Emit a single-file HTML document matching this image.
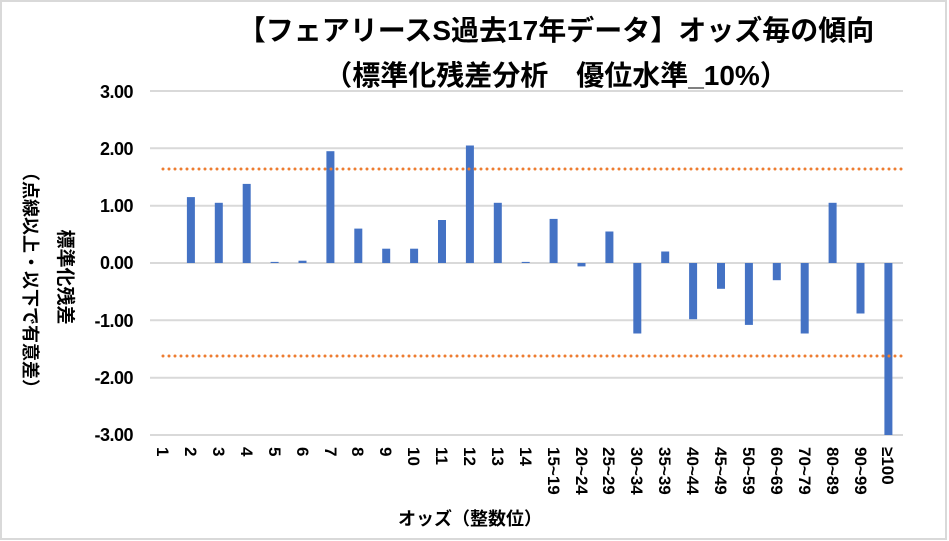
<!DOCTYPE html>
<html><head><meta charset="utf-8"><style>
html,body{margin:0;padding:0;background:#fff;}
svg{display:block;font-family:"Liberation Sans","Noto Sans CJK JP",sans-serif;}
</style></head><body>
<svg width="949" height="541" viewBox="0 0 949 541" xmlns="http://www.w3.org/2000/svg">
<rect x="1" y="1" width="945" height="538" fill="#fff" stroke="#d9d9d9" stroke-width="2"/>
<text x="556" y="40" font-size="28" font-weight="bold" text-anchor="middle" fill="#000">【フェアリースS過去17年データ】オッズ毎の傾向</text>
<text x="556" y="85" font-size="28" font-weight="bold" text-anchor="middle" fill="#000">（標準化残差分析　優位水準_10%）</text>
<g stroke="#d9d9d9" stroke-width="2">
<line x1="150" y1="91" x2="903" y2="91"/><line x1="150" y1="148.3" x2="903" y2="148.3"/>
<line x1="150" y1="205.7" x2="903" y2="205.7"/><line x1="150" y1="263" x2="903" y2="263"/>
<line x1="150" y1="320.3" x2="903" y2="320.3"/><line x1="150" y1="377.7" x2="903" y2="377.7"/>
<line x1="150" y1="435" x2="903" y2="435"/>
</g>
<g font-size="18" font-weight="bold" text-anchor="end" fill="#000" letter-spacing="-0.5">
<text x="133" y="98">3.00</text><text x="133" y="155">2.00</text><text x="133" y="212">1.00</text>
<text x="133" y="269">0.00</text><text x="133" y="327">-1.00</text><text x="133" y="384">-2.00</text><text x="133" y="441">-3.00</text>
</g>
<g fill="#4472c4">
<rect x="186.9" y="197.1" width="8" height="65.9"/><rect x="214.8" y="202.8" width="8" height="60.2"/>
<rect x="242.7" y="183.9" width="8" height="79.1"/><rect x="270.6" y="261.9" width="8" height="1.1"/>
<rect x="298.5" y="260.7" width="8" height="2.3"/><rect x="326.4" y="151.2" width="8" height="111.8"/>
<rect x="354.3" y="228.6" width="8" height="34.4"/><rect x="382.2" y="248.7" width="8" height="14.3"/>
<rect x="410.1" y="248.7" width="8" height="14.3"/><rect x="438" y="220" width="8" height="43"/>
<rect x="465.9" y="145.5" width="8" height="117.5"/><rect x="493.8" y="202.8" width="8" height="60.2"/>
<rect x="521.7" y="261.9" width="8" height="1.1"/><rect x="549.6" y="218.9" width="8" height="44.1"/>
<rect x="577.5" y="263" width="8" height="3.4"/><rect x="605.4" y="231.5" width="8" height="31.5"/>
<rect x="633.3" y="263" width="8" height="70.5"/><rect x="661.2" y="251.5" width="8" height="11.5"/>
<rect x="689.1" y="263" width="8" height="56.2"/><rect x="717" y="263" width="8" height="25.8"/>
<rect x="744.9" y="263" width="8" height="61.9"/><rect x="772.8" y="263" width="8" height="17.2"/>
<rect x="800.7" y="263" width="8" height="70.5"/><rect x="828.6" y="202.8" width="8" height="60.2"/>
<rect x="856.5" y="263" width="8" height="50.5"/><rect x="884.4" y="263" width="8" height="172"/>
</g>
<g stroke="#ed7d31" stroke-width="3" stroke-linecap="round" stroke-dasharray="0 6">
<line x1="163" y1="169" x2="904" y2="169"/><line x1="163" y1="356" x2="904" y2="356"/>
</g>
<g font-size="17" font-weight="bold" fill="#000">
<text transform="translate(157,447) rotate(90)">1</text>
<text transform="translate(185,447) rotate(90)">2</text>
<text transform="translate(213,447) rotate(90)">3</text>
<text transform="translate(241,447) rotate(90)">4</text>
<text transform="translate(269,447) rotate(90)">5</text>
<text transform="translate(297,447) rotate(90)">6</text>
<text transform="translate(325,447) rotate(90)">7</text>
<text transform="translate(352,447) rotate(90)">8</text>
<text transform="translate(380,447) rotate(90)">9</text>
<text transform="translate(408,447) rotate(90)">10</text>
<text transform="translate(436,447) rotate(90)">11</text>
<text transform="translate(464,447) rotate(90)">12</text>
<text transform="translate(492,447) rotate(90)">13</text>
<text transform="translate(520,447) rotate(90)">14</text>
<text transform="translate(548,447) rotate(90)">15~19</text>
<text transform="translate(576,447) rotate(90)">20~24</text>
<text transform="translate(603,447) rotate(90)">25~29</text>
<text transform="translate(631,447) rotate(90)">30~34</text>
<text transform="translate(659,447) rotate(90)">35~39</text>
<text transform="translate(687,447) rotate(90)">40~44</text>
<text transform="translate(715,447) rotate(90)">45~49</text>
<text transform="translate(743,447) rotate(90)">50~59</text>
<text transform="translate(771,447) rotate(90)">60~69</text>
<text transform="translate(799,447) rotate(90)">70~79</text>
<text transform="translate(827,447) rotate(90)">80~89</text>
<text transform="translate(855,447) rotate(90)">90~99</text>
<text transform="translate(882,447) rotate(90)">≥100</text>
</g>
<text x="470" y="525" font-size="18" font-weight="bold" text-anchor="middle" fill="#000">オッズ（整数位）</text>
<text transform="translate(59,277) rotate(90)" font-size="19" font-weight="bold" text-anchor="middle" fill="#000">標準化残差</text>
<text transform="translate(24,280) rotate(90)" font-size="18" font-weight="bold" text-anchor="middle" fill="#000">（点線以上・以下で有意差）</text>
</svg>
</body></html>
